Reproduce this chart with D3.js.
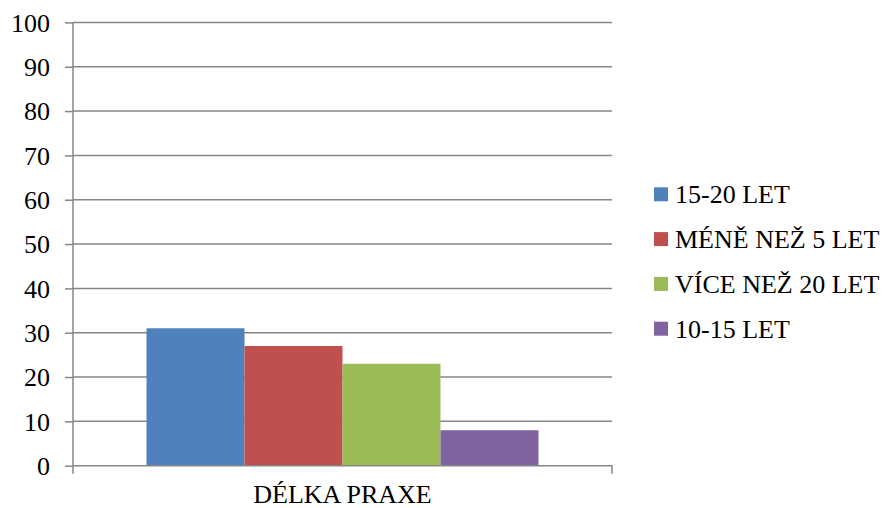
<!DOCTYPE html>
<html>
<head>
<meta charset="utf-8">
<script src="https://cdn.jsdelivr.net/npm/d3@7"></script>
</head>
<body style="margin:0">
<svg id="chart" width="884" height="508"></svg>
<script>
// Chart data
const categories = ["DÉLKA PRAXE"];
const seriesNames = ["15-20 LET", "MÉNĚ NEŽ 5 LET", "VÍCE NEŽ 20 LET", "10-15 LET"];
const seriesValues = [31, 27, 23, 8];
const seriesColors = ["#4F81BD", "#C0504D", "#9BBB59", "#8064A2"];
const yTicks = [0, 10, 20, 30, 40, 50, 60, 70, 80, 90, 100];

const svg = d3.select("#chart");
const plot = { left: 73, right: 612, top: 22.4, bottom: 465.7 };
const gridColor = "#868686";

// Serif labels shared by axis, category and legend text
function label(sel) {
  return sel.attr("font-size", 26).style("font-family", '"Liberation Serif"').attr("fill", "#000");
}

const y = d3.scaleLinear().domain([0, 100]).range([plot.bottom, plot.top]);
const x0 = d3.scaleBand().domain(categories).range([plot.left, plot.right])
  .paddingInner(0).paddingOuter(0.1875);
const x1 = d3.scaleBand().domain(seriesNames).range([0, x0.bandwidth()]);

// Horizontal gridlines
svg.append("g")
  .selectAll("line")
  .data(yTicks.filter(d => d > 0))
  .join("line")
  .attr("x1", plot.left).attr("x2", plot.right)
  .attr("y1", d => y(d)).attr("y2", d => y(d))
  .attr("stroke", gridColor).attr("stroke-width", 1.5);

// Y axis with outward ticks
const yAxis = d3.axisLeft(y).tickValues(yTicks).tickSize(8).tickPadding(15).tickFormat(d3.format("d"));
const gy = svg.append("g").attr("transform", `translate(${plot.left},0)`).call(yAxis);
gy.select(".domain").attr("stroke", gridColor).attr("stroke-width", 1.5)
  .attr("d", `M0,${plot.top}V${plot.bottom + 8}`);
gy.selectAll(".tick line").attr("stroke", gridColor).attr("stroke-width", 1.5);
label(gy.selectAll(".tick text")).attr("dy", "0.34em");

// Bars
svg.append("g")
  .selectAll("g")
  .data(categories)
  .join("g")
  .attr("transform", d => `translate(${x0(d)},0)`)
  .selectAll("rect")
  .data(seriesNames.map((name, i) => ({ name, value: seriesValues[i], color: seriesColors[i] })))
  .join("rect")
  .attr("x", d => x1(d.name))
  .attr("width", x1.bandwidth())
  .attr("y", d => y(d.value))
  .attr("height", d => y(0) - y(d.value))
  .attr("fill", d => d.color);

// X axis baseline with end tick
const xAxis = d3.axisBottom(x0).tickSize(0).tickFormat(() => "");
const gx = svg.append("g").attr("transform", `translate(0,${plot.bottom})`).call(xAxis);
gx.select(".domain").attr("stroke", gridColor).attr("stroke-width", 1.5)
  .attr("d", `M${plot.left},0H${plot.right}V8`);
gx.selectAll(".tick").remove();

// Category label
label(svg.append("g")
  .selectAll("text")
  .data(categories)
  .join("text")
  .attr("x", d => x0(d) + x0.bandwidth() / 2)
  .attr("y", 503)
  .attr("text-anchor", "middle")
  .text(d => d));

// Legend
const legend = svg.append("g").attr("transform", "translate(654,0)");
const rows = legend.selectAll("g")
  .data(seriesNames)
  .join("g")
  .attr("transform", (d, i) => `translate(0,${203.3 + i * 44.8})`);
rows.append("rect")
  .attr("x", 0).attr("y", -16).attr("width", 14).attr("height", 14)
  .attr("fill", (d, i) => seriesColors[i]);
label(rows.append("text")
  .attr("x", 21).attr("y", 0)
  .text(d => d));
</script>
</body>
</html>
